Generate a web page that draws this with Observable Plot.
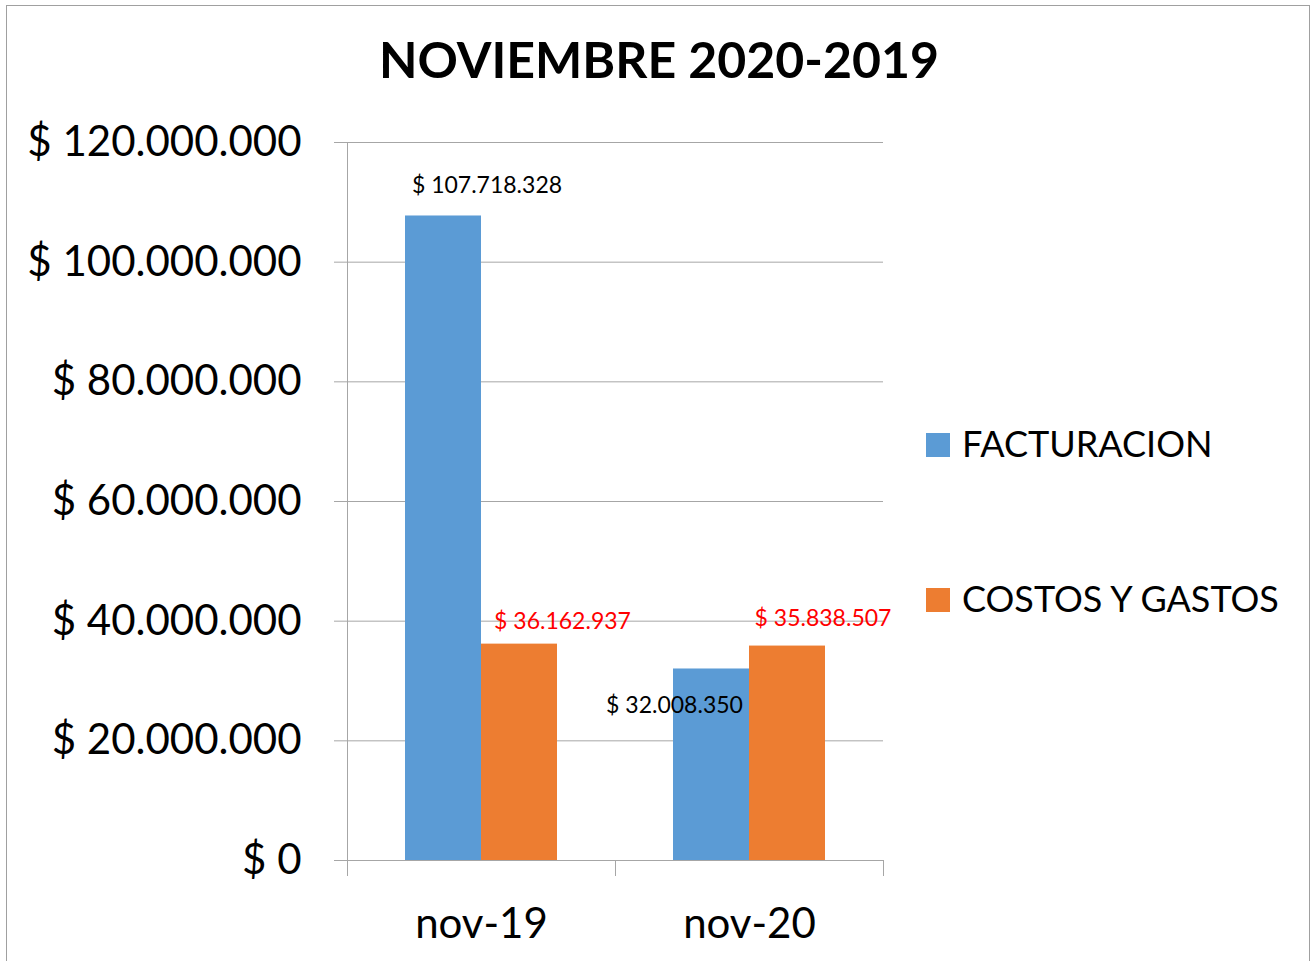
<!DOCTYPE html>
<html>
<head>
<meta charset="utf-8">
<script src="https://cdn.jsdelivr.net/npm/d3@7"></script>
<script src="https://cdn.jsdelivr.net/npm/@observablehq/plot@0.6"></script>
<style>
  html, body { margin: 0; padding: 0; background: #fff; overflow: hidden; }
  body { width: 1310px; height: 961px; position: relative; font-family: Lato, "Open Sans", sans-serif; }
  #border { position: absolute; left: 6px; top: 5px; width: 1304px; height: 1000px; box-sizing: border-box; border: 1px solid #a0a0a0; pointer-events: none; }
  #title { position: absolute; left: 0; top: 0; width: 1318px; height: 105px; box-sizing: border-box; padding-top: 29px; text-align: center; font-weight: 700; font-size: 50px; line-height: 60px; color: #000; }
  #chart { position: absolute; left: 0; top: 105px; }
  .lg-sw { position: absolute; width: 24px; height: 24px; }
  .lg-tx { position: absolute; font-size: 36px; line-height: 36px; color: #000; white-space: nowrap; }
</style>
</head>
<body>
<div id="title">NOVIEMBRE 2020-2019</div>
<div id="chart"></div>
<div id="legend"></div>
<div id="border"></div>
<script>
// ---- data ----
const categories = ["nov-19", "nov-20"];
const series = ["FACTURACION", "COSTOS Y GASTOS"];
const facturacion = [107718328, 32008350];
const costosYGastos = [36162937, 35838507];
const yTicks = [0, 20000000, 40000000, 60000000, 80000000, 100000000, 120000000];
const seriesColors = ["#5B9BD5", "#ED7D31"];
const labelColors = ["#000000", "#FF0000"];

const rows = [];
categories.forEach((c, i) => {
  rows.push({cat: c, series: series[0], value: facturacion[i]});
  rows.push({cat: c, series: series[1], value: costosYGastos[i]});
});

const loc = d3.formatLocale({decimal: ",", thousands: ".", grouping: [3], currency: ["$ ", ""]});
const fmt = loc.format("$,.0f");

const gray = "#a6a6a6";
const W = 1310, H = 856, mTop = 37, mBottom = 101, mLeft = 346, mRight = 427;
const plotH = H - mTop - mBottom;

const pick = (cat, s) => rows.filter(d => d.cat === cat && d.series === s);
const lbl = (cat, s, dx, dy) => Plot.text(pick(cat, s), {
  fx: "cat", x: "series", y: "value", text: d => fmt(d.value),
  dx, dy, fill: labelColors[series.indexOf(s)], fontSize: 23, textAnchor: "middle", lineAnchor: "middle"
});

const chart = Plot.plot({
  width: W, height: H,
  marginTop: mTop, marginBottom: mBottom, marginLeft: mLeft, marginRight: mRight,
  style: {fontFamily: "Lato, 'Open Sans', sans-serif", color: "#000", background: "transparent"},
  fx: {domain: categories, padding: 0},
  x: {domain: series, paddingInner: 0, paddingOuter: 0.744, axis: null},
  y: {domain: [0, 120000000]},
  color: {domain: series, range: seriesColors},
  marks: [
    Plot.gridY(yTicks, {stroke: gray, strokeOpacity: 1}),
    Plot.frame({anchor: "left", facetAnchor: "left", stroke: gray, insetBottom: -15}),
    Plot.frame({anchor: "left", stroke: gray, insetTop: plotH, insetBottom: -15}),
    Plot.frame({anchor: "right", facetAnchor: "right", stroke: gray, insetTop: plotH, insetBottom: -15}),
    Plot.axisY(yTicks, {tickSize: 13, tickPadding: 33, fontSize: 42, stroke: gray, fill: "#000", tickFormat: fmt, label: null}),
    Plot.axisFx({anchor: "bottom", tickSize: 0, tickPadding: 48, fontSize: 42, fill: "#000", label: null}),
    Plot.barY(rows, {fx: "cat", x: "series", y: "value", fill: "series"}),
    lbl("nov-19", series[0], 43.5, -30),
    lbl("nov-19", series[1], 43, -23),
    lbl("nov-20", series[0], -37, 37),
    lbl("nov-20", series[1], 35.5, -27)
  ]
});
document.getElementById("chart").appendChild(chart);

// ---- legend ----
const legend = document.getElementById("legend");
const legendTops = [433, 588];
series.forEach((s, i) => {
  const sw = document.createElement("div");
  sw.className = "lg-sw";
  sw.style.left = "926px";
  sw.style.top = legendTops[i] + "px";
  sw.style.background = seriesColors[i];
  legend.appendChild(sw);
  const tx = document.createElement("div");
  tx.className = "lg-tx";
  tx.style.left = "962px";
  tx.style.top = (legendTops[i] - 8) + "px";
  tx.textContent = s;
  legend.appendChild(tx);
});
</script>
</body>
</html>
